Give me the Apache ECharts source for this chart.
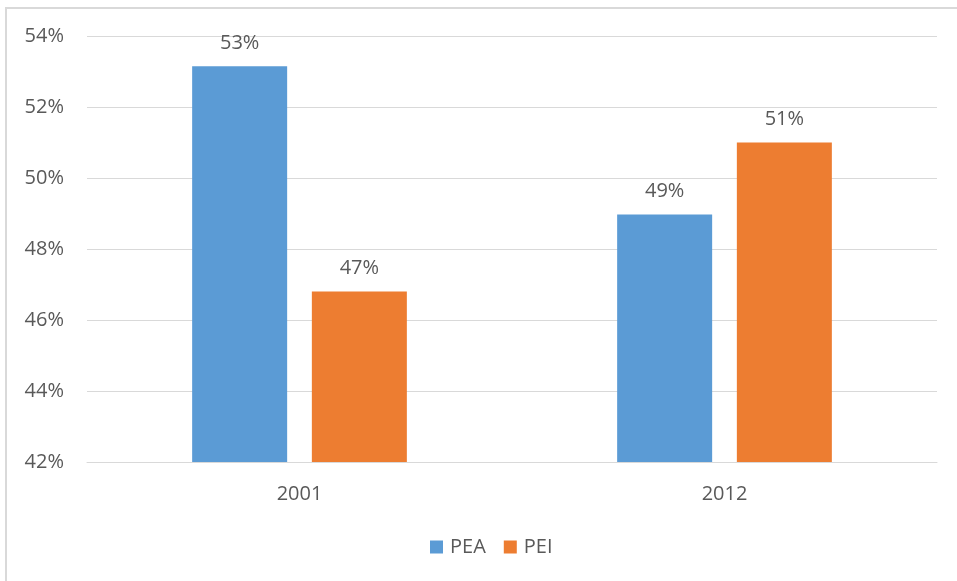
<!DOCTYPE html>
<html>
<head>
<meta charset="utf-8">
<script src="https://cdn.jsdelivr.net/npm/echarts@6/dist/echarts.min.js"></script>
<style>
  html, body { margin: 0; padding: 0; background: #fff; }
  #echart { width: 957px; height: 581px; }
</style>
</head>
<body>
<div id="echart"></div>
<script>
var years = ['2001', '2012'];
var peaValues = [53.15, 48.97];
var peiValues = [46.8, 51.0];
var yTicks = [42, 44, 46, 48, 50, 52, 54];

var textColor = '#595959';
var fontFamily = '"Open Sans", "Noto Sans", sans-serif';

var myChart = echarts.init(document.getElementById('echart'));
var labelOpt = {
    show: true,
    position: 'top',
    distance: 13,
    color: textColor,
    fontSize: 20,
    fontFamily: fontFamily,
    formatter: function (p) { return Math.round(p.value) + '%'; }
};
var option = {
    animation: false,
    graphic: [{
        type: 'rect',
        shape: { x: 6, y: 8, width: 1000, height: 1000 },
        style: { fill: 'none', stroke: '#d9d9d9', lineWidth: 2 },
        silent: true
    }],
    grid: { left: 87, right: 20, top: 36, bottom: 119 },
    legend: {
        top: 532,
        left: 425,
        itemWidth: 13,
        itemHeight: 13,
        itemGap: 18,
        icon: 'rect',
        textStyle: { color: textColor, fontSize: 20, fontFamily: fontFamily, padding: [0, 0, 0, 2] },
        data: ['PEA', 'PEI']
    },
    xAxis: {
        type: 'category',
        data: years,
        axisLine: { lineStyle: { color: '#d9d9d9' } },
        axisTick: { show: false },
        axisLabel: { color: textColor, fontSize: 20, fontFamily: fontFamily, margin: 22 }
    },
    yAxis: {
        type: 'value',
        min: yTicks[0],
        max: yTicks[yTicks.length - 1],
        interval: 2,
        axisLine: { show: false },
        axisTick: { show: false },
        splitLine: { lineStyle: { color: '#d9d9d9' } },
        axisLabel: {
            color: textColor, fontSize: 20, fontFamily: fontFamily, margin: 23,
            formatter: '{value}%'
        }
    },
    series: [
        {
            name: 'PEA',
            type: 'bar',
            data: peaValues,
            barWidth: 95,
            barGap: '26%',
            itemStyle: { color: '#5B9BD5' },
            label: labelOpt
        },
        {
            name: 'PEI',
            type: 'bar',
            data: peiValues,
            barWidth: 95,
            barGap: '26%',
            itemStyle: { color: '#ED7D31' },
            label: labelOpt
        }
    ]
};
myChart.setOption(option);
window.onresize = myChart.resize;
</script>
</body>
</html>
